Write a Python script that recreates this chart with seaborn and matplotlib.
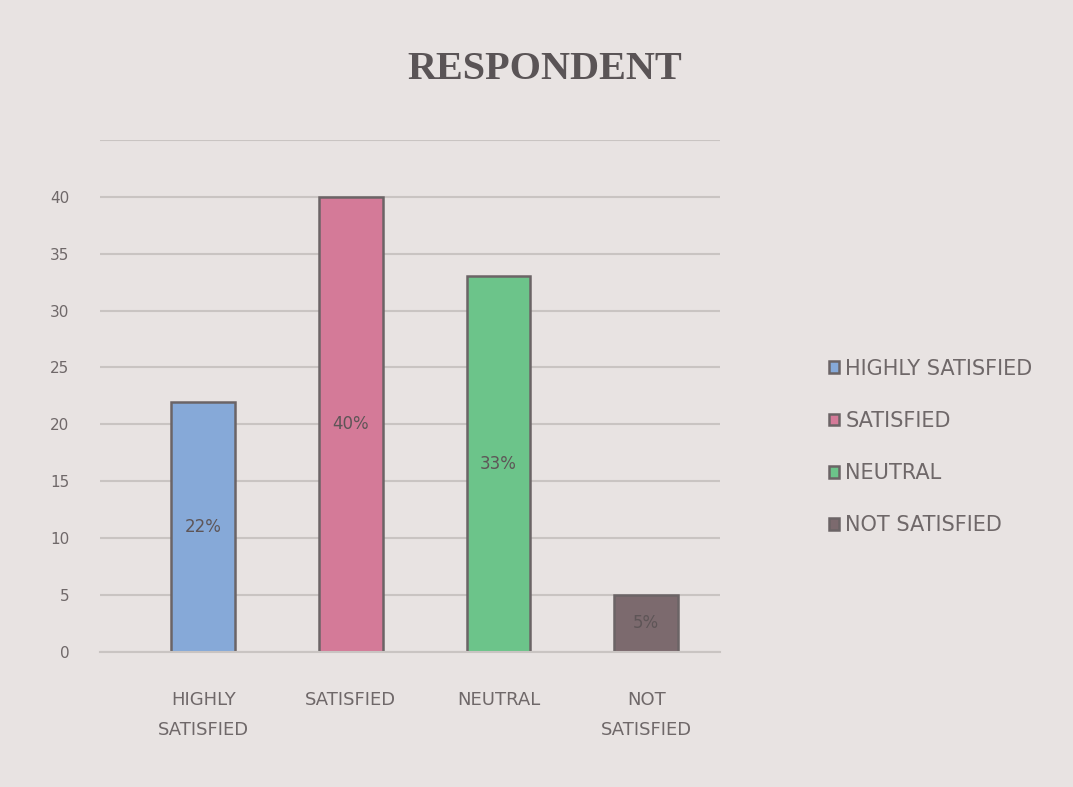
import matplotlib
matplotlib.use("Agg")
import matplotlib.pyplot as plt
import seaborn as sns
import pandas as pd

# Survey responses (share of respondents, %)
categories = ["HIGHLY SATISFIED", "SATISFIED", "NEUTRAL", "NOT SATISFIED"]
tick_labels = ["HIGHLY\nSATISFIED", "SATISFIED", "NEUTRAL", "NOT\nSATISFIED"]
values = [22, 40, 33, 5]
colors = ["#86a9d8", "#d47a98", "#6cc48a", "#7c6a6e"]
y_ticks = [0, 5, 10, 15, 20, 25, 30, 35, 40]

df = pd.DataFrame({"category": categories, "value": values})

sns.set_theme(style="white")
plt.rcParams["font.family"] = ["DejaVu Sans"]

bg = "#e8e3e2"
text_col = "#6f6869"
fig = plt.figure(figsize=(10.73, 7.87), dpi=100, facecolor=bg)
ax = fig.add_axes([0.093, 0.172, 0.578, 0.650])
ax.set_facecolor(bg)

sns.barplot(data=df, x="category", y="value", hue="category",
            palette=colors, saturation=1, dodge=False, width=0.43,
            legend=True, edgecolor="#6b6466", linewidth=1.8, ax=ax)

ax.set_ylim(0, 45)
ax.set_xlim(-0.7, 3.5)
ax.set_yticks(y_ticks)
ax.set_yticklabels([str(t) for t in y_ticks], fontsize=11, color=text_col)
ax.set_xticks(range(len(categories)))
ax.set_xticklabels(tick_labels, fontsize=13, color=text_col, linespacing=1.9)
ax.tick_params(axis="y", pad=22, length=0)
ax.tick_params(axis="x", pad=28, length=0)
ax.set_xlabel("")
ax.set_ylabel("")

# horizontal gridlines every 5 units up to the top of the axis
ax.yaxis.grid(True, color="#c9c4c2", linewidth=1.5)
ax.axhline(45, color="#c9c4c2", linewidth=1.5, zorder=0)
ax.set_axisbelow(True)
for side in ["top", "right", "left"]:
    ax.spines[side].set_visible(False)
ax.spines["bottom"].set_color("#c9c4c2")
ax.spines["bottom"].set_linewidth(1.5)

# value labels in the middle of each bar
for i, v in enumerate(values):
    ax.text(i, v / 2, f"{v}%", ha="center", va="center",
            fontsize=12, color="#5e5557")

leg = ax.legend(loc="center left", bbox_to_anchor=(1.145, 0.40), frameon=False,
                fontsize=15, handlelength=0.5, handleheight=0.5,
                handletextpad=0.3, labelspacing=1.55)
for t in leg.get_texts():
    t.set_color(text_col)

fig.text(0.508, 0.912, "RESPONDENT", ha="center", va="center",
         fontsize=29, fontweight="bold", color="#5a5456",
         family="Liberation Serif")

fig.savefig("out.png", dpi=100, facecolor=bg)
